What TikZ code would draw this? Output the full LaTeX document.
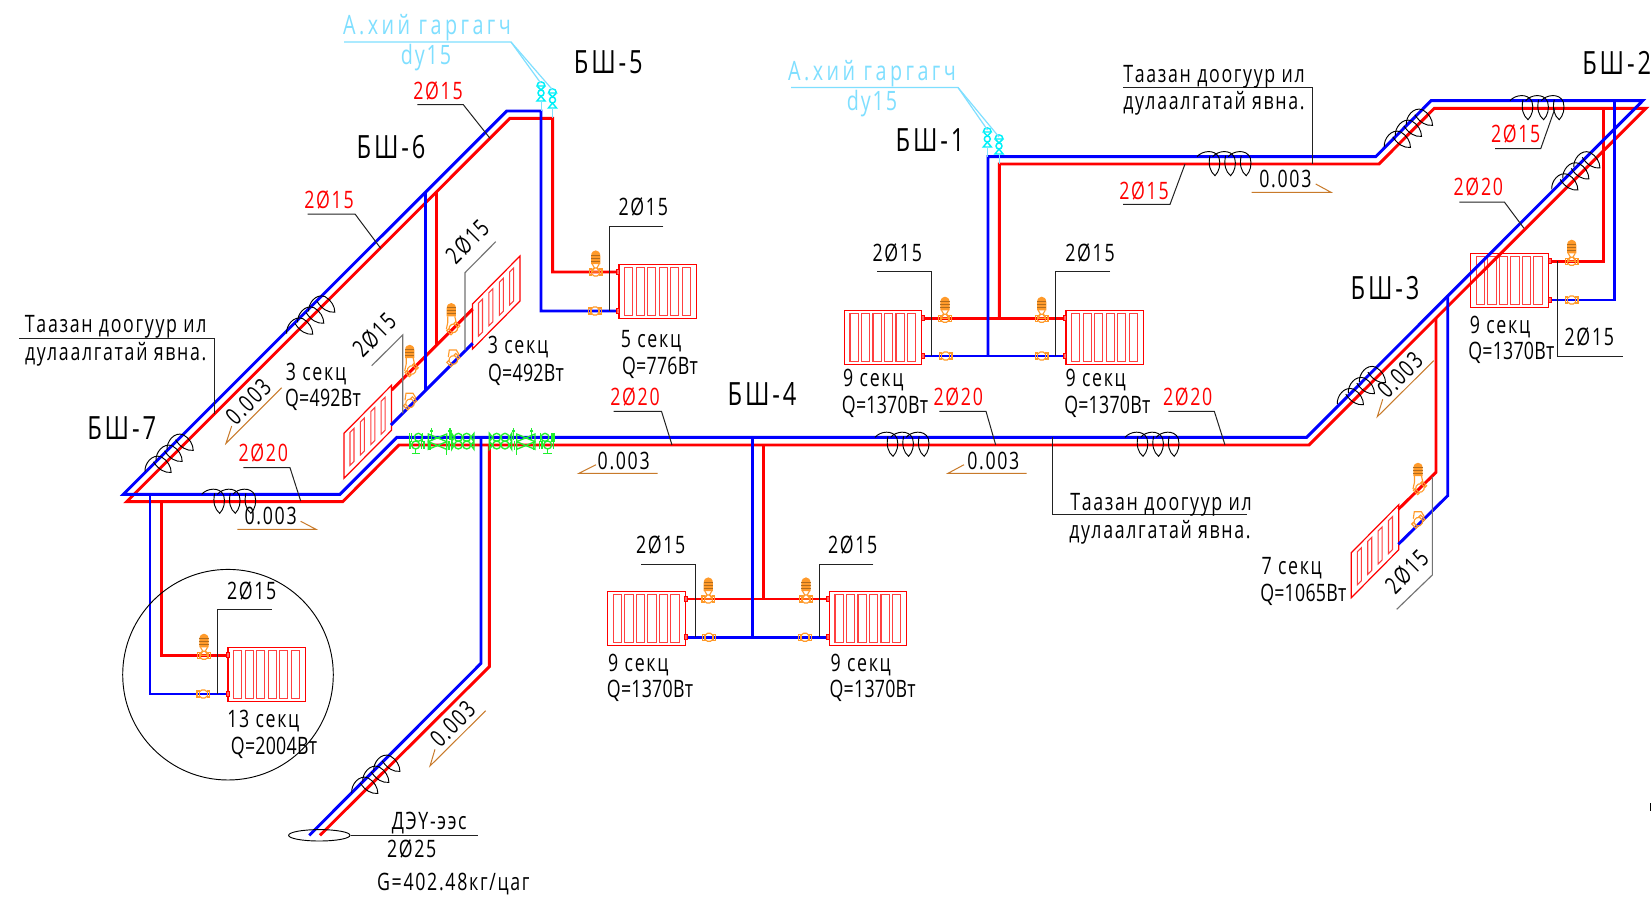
\documentclass[tikz,border=0pt]{standalone}
\usepackage{fontspec}
\setmainfont[FakeStretch=0.74,LetterSpace=7]{Open Sans}
\newcounter{labc}
\definecolor{cyanl}{HTML}{7FDFFF}
\definecolor{cyanv}{HTML}{00F0F8}
\definecolor{orng}{HTML}{FF9A2A}
\definecolor{slope}{HTML}{C87A2A}
\definecolor{grn}{HTML}{20F030}
\definecolor{lead}{HTML}{222222}
\tikzset{
 pipeb/.style={draw=blue,line width=2.2pt,line join=miter},
 piper/.style={draw=red,line width=2.2pt,line join=miter},
 leader/.style={draw=lead,line width=.75pt},
 leadg/.style={draw=gray!90!black,line width=.85pt},
 sloped/.style={draw=slope,line width=.75pt},
 coilp/.style={draw=black,line width=.7pt},
 rad/.style={draw=red,line width=.9pt},
 radin/.style={draw=red!75!white,line width=.8pt},
 vlv/.style={draw=orng,line width=.85pt},
 gv/.style={draw=grn,line width=1pt},
 cv/.style={draw=cyanv,line width=1.1pt},
 lab/.style={inner sep=0pt,text=black,font=\fontsize{18}{20}\selectfont},
 big/.style={lab,font=\fontsize{24}{26}\selectfont\addfontfeature{LetterSpace=9}},
 redl/.style={lab,text=red},
 cyl/.style={lab,text=cyanl,font=\fontsize{20}{22}\selectfont\addfontfeature{LetterSpace=13}},
 cyd/.style={lab,text=cyanl,font=\fontsize{20}{22}\selectfont},
 dn/.style={yshift=-2pt},
 qq/.style={font=\fontsize{18}{20}\selectfont\addfontfeature{LetterSpace=1},yshift=-2pt},
}
\newcommand\lbl[3][]{\stepcounter{labc}\node[lab,#1] (t\arabic{labc}) at (#2) {#3};}
\newcommand\radr[2]{\begin{scope}[shift={(#1,#2)}]
 \draw[rad] (0,0) rectangle (77.5,54);
 \foreach \i in {0,...,5} {\draw[radin] ({5.7+\i*11.5},3) rectangle ++(8.2,48);}
\end{scope}}
\newcommand\radi[2]{\begin{scope}[shift={(#1,#2)}]
 \draw[rad] (0,0) -- (47.5,-48) -- (47.5,-3) -- (0,45) -- cycle;
 \foreach \i in {0,...,3} {\draw[radin] ({6+\i*10.4},{-1-\i*10.4}) -- ++(4,-4) -- ++(0,33) -- ++(-4,4) -- cycle;}
\end{scope}}
\newcommand\stub[2]{\draw[draw=red,line width=.7pt,fill=red!60!white] (#1-1.5,#2-2.5) rectangle (#1+1.5,#2+2.5);}
\newcommand\vbody{%
 \draw[vlv] (-6.3,-3) rectangle (-4,3);
 \draw[vlv] (6.3,-3) rectangle (4,3);
 \draw[vlv] (-4,-2) -- (-1.5,-4) -- (1.5,-4) -- (4,-2);
 \draw[vlv] (-4,2) -- (-1.5,4) -- (1.5,4) -- (4,2);}
\newcommand\vhead{%
 \fill[orng] (-4.6,-8) -- (-4.6,-16) .. controls (-4.6,-23.5) and (4.6,-23.5) .. (4.6,-16) -- (4.6,-8) -- cycle;
 \foreach \yy in {-11,-14,-17} {\draw[draw=orng!70!black,line width=.4pt] (-4.6,\yy) -- (4.6,\yy);}
 \draw[vlv] (-3.5,-8) -- (-1.2,-4) (3.5,-8) -- (1.2,-4);
 \draw[vlv] (-1.2,-4) -- (-4,0) -- (4,0) -- (1.2,-4);}
\newcommand\valveT[2]{\begin{scope}[shift={(#1,#2)}]\vbody\vhead\end{scope}}
\newcommand\valveL[2]{\begin{scope}[shift={(#1,#2)}]\vbody\end{scope}}
\newcommand\valveTi[2]{\begin{scope}[shift={(#1,#2)}]
 \begin{scope}[rotate=45]\vbody\end{scope}
 \begin{scope}[xshift=-1.5pt]\fill[orng] (-4.6,-12) -- (-4.6,-20) .. controls (-4.6,-27) and (4.6,-27) .. (4.6,-20) -- (4.6,-12) -- cycle;
 \foreach \yy in {-15,-18,-21} {\draw[draw=orng!70!black,line width=.4pt] (-4.6,\yy) -- (4.6,\yy);}
 \draw[vlv] (-3.5,-12) -- (-3.5,-6) -- (-5,1) (3.5,-12) -- (5,-5);\end{scope}
\end{scope}}
\newcommand\valveLi[2]{\begin{scope}[shift={(#1,#2)}]
 \begin{scope}[rotate=45]\vbody\end{scope}
 \draw[vlv] (-5,-3) -- (-4,-10) -- (3,-10) -- (6,-5);
\end{scope}}
\newcommand\coil[3]{\begin{scope}[shift={(#1,#2)},rotate=#3]
 \foreach \i in {0,1,2} {\begin{scope}[xshift=\i*11.7pt]
  \draw[coilp] (0,0) .. controls (5,-6) and (18,-8) .. (22,1) .. controls (24,8) and (22,15) .. (18,19) .. controls (13,15) and (11,8) .. (13,-1);
 \end{scope}}
\end{scope}}
\newcommand\cvalve[2]{\begin{scope}[shift={(#1,#2)}]
 \draw[cv] (-4,3) .. controls (-4,-2.5) and (4,-2.5) .. (4,3) -- cycle;
 \draw[cv] (-3.5,3.5) -- (0,7) -- (3.5,3.5);
 \draw[cv] (0,10) circle (3);
 \draw[cv] (-4,18) -- (4,18) -- (0,13) -- cycle;
 \draw[draw=cyanl,line width=.7pt] (0,18) -- (0,28);
\end{scope}}
\newcommand\ghalf{%
 \foreach \p/\q in {55/52,47/75,175/52,200/52,175/75,200/75} {\draw[gv] (\p,\q) circle (12);}
 \draw[gv] (47,87) -- (47,100) (35,100) -- (60,100);
 \draw[gv] (28,40) -- (28,65) (34,40) -- (34,65) (30,62) -- (30,88) (68,40) -- (68,65) (72,62) -- (72,88) (64,62) -- (64,88);
 \draw[gv] (85,42) -- (140,65) -- (140,42) -- (85,65) -- cycle;
 \draw[gv] (85,65) -- (140,88) -- (140,65) -- (85,88) -- cycle;
 \draw[gv] (95,25) -- (95,60) (90,33) -- (100,33) (90,65) -- (90,90) (150,25) -- (150,60) (145,33) -- (155,33) (140,88) -- (140,105) (147,62) -- (147,90);
 \draw[gv] (155,40) -- (163,52) -- (155,65) -- cycle (155,65) -- (163,75) -- (155,88) -- cycle (222,40) -- (212,52) -- (222,65) -- cycle (222,65) -- (212,75) -- (222,88) -- cycle;
}
\begin{document}
\begin{tikzpicture}[x=0.75pt,y=-0.75pt]
\useasboundingbox (0,0) rectangle (1652,903);
\fill[white] (0,0) rectangle (1652,903);

% radiators
\radr{228}{647.7}
\radr{619}{264.7}
\radr{607.7}{591.3}
\radr{829.3}{591.3}
\radr{844.3}{310.3}
\radr{1066}{310.3}
\radr{1470.7}{253.7}
\radi{344}{433.3}
\radi{472.5}{304}
\radi{1351.3}{552.7}

% red pipes
\draw[piper] (619,272) -- (552.7,272) -- (552.7,118.3) -- (510,118.3) -- (126.7,501.7) -- (342.7,501.7) -- (399,445) -- (1309,445) -- (1646,108.3) -- (1434.3,108.3) -- (1379,164) -- (999.3,164) -- (999.3,318.3);
\draw[piper] (489.3,445) -- (489.3,666.7) -- (320,835.3);
\draw[piper] (161.3,501.7) -- (161.3,655.3) -- (227.7,655.3);
\draw[piper] (685,599) -- (829,599);
\draw[piper] (763.7,445) -- (763.7,599);
\draw[piper] (921.7,318.3) -- (1065,318.3);
\draw[piper] (1603.3,108.3) -- (1603.3,261.3) -- (1549,261.3);
\draw[piper] (1436,318) -- (1436,472.3) -- (1398.3,509.3);
\draw[piper] (436.7,191.6) -- (436.7,345);
\draw[piper] (472.7,309) -- (391.7,390);

% blue pipes
\draw[pipeb] (619,311) -- (541,311) -- (541,111) -- (506.7,111) -- (123.3,494.3) -- (340,494.3) -- (397,437.3) -- (1306.7,437.3) -- (1642.7,100.7) -- (1431,100.7) -- (1375.7,156.7) -- (988,156.7) -- (988,356);
\draw[pipeb] (481,437.3) -- (481,663.3) -- (309.3,835.3);
\draw[pipeb] (150,494.3) -- (150,694) -- (227.7,694);
\draw[pipeb] (685,637.3) -- (829,637.3);
\draw[pipeb] (752.7,437.3) -- (752.7,637.3);
\draw[pipeb] (921.7,356) -- (1065,356);
\draw[pipeb] (1614.3,100.7) -- (1614.3,300) -- (1549,300);
\draw[pipeb] (1447.7,295.7) -- (1447.7,495.7) -- (1398.3,544.3);
\draw[pipeb] (425.3,192.4) -- (425.3,390);
\draw[pipeb] (472.7,343.3) -- (391,425);

% stubs
\stub{227.7}{655.3}\stub{227.7}{694}
\stub{618}{272}\stub{618}{311}
\stub{686}{599}\stub{686}{637.3}
\stub{828}{599}\stub{828}{637.3}
\stub{922.5}{318.3}\stub{922.5}{356}
\stub{1065}{318.3}\stub{1065}{356}
\stub{1549.5}{261.3}\stub{1549.5}{300}

% valves
\valveT{204}{655.3}\valveL{203.3}{694}
\valveT{595.7}{272}\valveL{595}{311}
\valveT{708.3}{599}\valveL{709}{637.3}
\valveT{806}{599}\valveL{805}{637.3}
\valveT{945}{318.3}\valveL{945.7}{356}
\valveT{1041.7}{318.3}\valveL{1041.7}{356}
\valveT{1571.7}{261.3}\valveL{1571.7}{300}
\valveTi{453.3}{328.3}\valveLi{453.3}{360}
\valveTi{411.7}{370}\valveLi{410}{403.3}
\valveTi{1420}{488}\valveLi{1418.3}{521.7}

% green valves
\begin{scope}[shift={(400,420)},x=0.25pt,y=-0.25pt]\ghalf\end{scope}
\begin{scope}[shift={(400,420)},xshift=122.5pt,x=-0.25pt,y=-0.25pt]\ghalf\end{scope}

% air vents
\cvalve{541}{83}
\cvalve{552.5}{90}
\cvalve{987.3}{129}
\cvalve{999}{136}
\draw[draw=cyanl,line width=.9pt] (344,42) -- (511,42) -- (540.7,83);
\draw[draw=cyanl,line width=.9pt] (511,42) -- (552.7,90);
\draw[draw=cyanl,line width=.9pt] (791,87.5) -- (958,87.5) -- (987.5,130);
\draw[draw=cyanl,line width=.9pt] (958,87.5) -- (999,137);

% coils
\coil{145}{471.7}{45}
\coil{201.7}{494.3}{0}
\coil{286.6}{333.5}{45}
\coil{351.7}{792.7}{45}
\coil{875}{437.3}{0}
\coil{1125}{437.3}{0}
\coil{1337.3}{404}{45}
\coil{1551.7}{189.3}{45}
\coil{1510}{100.7}{0}
\coil{1384.3}{146.7}{45}
\coil{1197}{156.7}{0}

% circle and ground ellipse
\draw[coilp] (228,674.7) circle (105.3);
\draw[coilp] (319.3,835.3) ellipse (30.7 and 5.7);

% leaders
\draw[leader] (417.3,104.7) -- (463.3,104.7) -- (490,138.3);
\draw[leader] (307.6,214) -- (355,214) -- (380.7,248.3);
\draw[leader] (663.3,226.3) -- (609.3,226.3) -- (609.3,310.7);
\draw[leadg] (495.7,241.7) -- (465,272.7) -- (465,350);
\draw[leadg] (371.7,365.7) -- (402.7,335) -- (402.7,413.3);
\draw[leader] (19.3,338) -- (214,338) -- (214,414);
\draw[leader] (243.3,467.7) -- (290,467.7) -- (300.7,501);
\draw[leader] (271.7,609.3) -- (217.7,609.3) -- (217.7,694);
\draw[leader] (350.7,835) -- (477.7,835);
\draw[leader] (641,564.7) -- (695.3,564.7) -- (695.3,637.3);
\draw[leader] (873.3,564.7) -- (819.3,564.7) -- (819.3,637.3);
\draw[leader] (877.3,271.7) -- (931.3,271.7) -- (931.3,356);
\draw[leader] (1110,271.7) -- (1055.7,271.7) -- (1055.7,356);
\draw[leader] (939.3,411.3) -- (986,411.3) -- (995.7,445);
\draw[leader] (613.5,411.3) -- (661.5,411.3) -- (672,445);
\draw[leader] (1168.3,411.3) -- (1214.3,411.3) -- (1225,445);
\draw[leader] (1052.3,437.3) -- (1052.3,514.3) -- (1246.7,514.3);
\draw[leader] (1123,87.5) -- (1312.7,87.5) -- (1312.7,164);
\draw[leader] (1123,204.4) -- (1170,204.4) -- (1185,164);
\draw[leader] (1495,148.7) -- (1540.7,148.7) -- (1555,108.3);
\draw[leader] (1459.3,202) -- (1504.3,202) -- (1524,228.3);
\draw[leader] (1557.7,261.3) -- (1557.7,356) -- (1623.3,356);
\draw[leadg] (1432.3,476.7) -- (1432.3,575) -- (1396.7,609.3);

% slope marks
\draw[sloped] (281.7,387.7) -- (226,443.3) -- (231.7,426);
\draw[sloped] (485.7,710.7) -- (430,766) -- (435,749.3);
\draw[sloped] (1433.7,360.7) -- (1377.3,416.7) -- (1382.7,399.3);
\draw[sloped] (300.7,521.3) -- (316,529.3) -- (237.3,529.3);
\draw[sloped] (596,464.7) -- (579,473.3) -- (657.5,473.3);
\draw[sloped] (964,464.7) -- (948,473.3) -- (1026.7,473.3);
\draw[sloped] (1315.7,184) -- (1331,192.3) -- (1251.6,192.3);

% texts
\lbl[cyl,dn]{427,25}{А.хий гаргагч}
\lbl[cyd]{426,58}{dу15}
\lbl[cyl,dn]{872,71}{А.хий гаргагч}
\lbl[cyd]{872,104}{dу15}
\lbl[big]{608.3,62.7}{БШ-5}
\lbl[big]{391,146.7}{БШ-6}
\lbl[big]{121.7,428.3}{БШ-7}
\lbl[big]{762,394}{БШ-4}
\lbl[big]{930,140}{БШ-1}
\lbl[big]{1616.7,63.3}{БШ-2}
\lbl[big]{1385,288.3}{БШ-3}
\lbl[redl]{438,90.7}{2Ø15}
\lbl[redl]{329,200}{2Ø15}
\lbl[redl]{263.3,453.3}{2Ø20}
\lbl[redl]{635,397}{2Ø20}
\lbl[redl]{958.3,396.7}{2Ø20}
\lbl[redl]{1187.7,397.3}{2Ø20}
\lbl[redl]{1144,190.7}{2Ø15}
\lbl[redl]{1515.7,134}{2Ø15}
\lbl[redl]{1478.3,187.3}{2Ø20}
\lbl{643.3,206.7}{2Ø15}
\lbl[rotate=45]{467.3,241.7}{2Ø15}
\lbl[rotate=45]{374.3,335}{2Ø15}
\lbl{251.7,590.7}{2Ø15}
\lbl{660.7,545}{2Ø15}
\lbl{852.7,545}{2Ø15}
\lbl{897.3,252.7}{2Ø15}
\lbl{1090,252.7}{2Ø15}
\lbl{1589.3,336.7}{2Ø15}
\lbl[rotate=45]{1406.7,571.7}{2Ø15}
\lbl[dn]{651,338.5}{5 секц}
\lbl[qq]{660,365.6}{Q=776Вт}
\lbl[dn]{518,344}{3 секц}
\lbl[qq]{526,371.7}{Q=492Вт}
\lbl[dn]{316,371}{3 секц}
\lbl[qq]{323,396.7}{Q=492Вт}
\lbl[dn]{263.3,718.3}{13 секц}
\lbl[qq]{274,745}{Q=2004Вт}
\lbl[dn]{638.3,662.3}{9 секц}
\lbl[qq]{650,688.3}{Q=1370Вт}
\lbl[dn]{860.7,662.3}{9 секц}
\lbl[qq]{872.7,688.3}{Q=1370Вт}
\lbl[dn]{873.3,377.3}{9 секц}
\lbl[qq]{885,404.3}{Q=1370Вт}
\lbl[dn]{1095.7,377.3}{9 секц}
\lbl[qq]{1107.3,404.3}{Q=1370Вт}
\lbl[dn]{1500,324}{9 секц}
\lbl[qq]{1511.3,350}{Q=1370Вт}
\lbl[dn]{1291.7,565}{7 секц}
\lbl[qq]{1303.3,591.7}{Q=1065Вт}
\lbl[dn]{115.7,324.3}{Таазан доогуур ил}
\lbl[dn]{115.7,351.7}{дулаалгатай явна.}
\lbl[dn]{1161,502.3}{Таазан доогуур ил}
\lbl[dn]{1160,530}{дулаалгатай явна.}
\lbl[dn]{1214,73.7}{Таазан доогуур ил}
\lbl[dn]{1214,101}{дулаалгатай явна.}
\lbl[rotate=45]{248.3,401.7}{0.003}
\lbl[rotate=45]{452.7,724}{0.003}
\lbl[rotate=45]{1400,375}{0.003}
\lbl{270.7,516}{0.003}
\lbl{623.7,460.7}{0.003}
\lbl{993.3,460.7}{0.003}
\lbl{1285.4,179}{0.003}
\lbl{429.3,823.5}{ДЭҮ-ээс}
\lbl{411.7,849.3}{2Ø25}
\lbl[dn]{453.3,881}{G=402.48кг/цаг}
\draw[draw=black,line width=.8pt] (1650.5,803) -- (1650.5,811);
\end{tikzpicture}
\end{document}
